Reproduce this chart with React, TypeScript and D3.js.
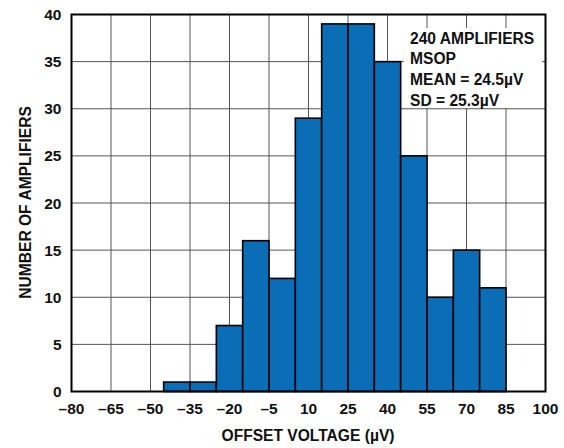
import React from "react";
import * as d3 from "d3";

const binStarts = [-55, -45, -35, -25, -15, -5, 5, 15, 25, 35, 45, 55, 65, 75, 85];
const counts = [0, 1, 1, 7, 16, 12, 29, 39, 39, 35, 25, 10, 15, 11, 0];
const binWidth = 10;
const xTicks = [-80, -65, -50, -35, -20, -5, 10, 25, 40, 55, 70, 85, 100];
const yTicks = [0, 5, 10, 15, 20, 25, 30, 35, 40];
const infoLines = ["240 AMPLIFIERS", "MSOP", "MEAN = 24.5µV", "SD = 25.3µV"];

export default function App() {
  const W = 564, H = 448;
  const left = 71.5, right = 545.5, top = 14.5, bottom = 391.5;
  const x = d3.scaleLinear().domain([-80, 100]).range([left, right]);
  const y = d3.scaleLinear().domain([0, 40]).range([bottom, top]);
  const font = "'Liberation Sans', Arial, sans-serif";
  return (
    <svg width={W} height={H} style={{ position: "absolute", left: 0, top: 0 }} fontFamily={font} fontWeight="bold">
      <rect width={W} height={H} fill="#fff" />
      {xTicks.map((t) => (
        <line key={"gx" + t} x1={x(t)} x2={x(t)} y1={top} y2={bottom} stroke="#555" strokeWidth={1} />
      ))}
      {yTicks.map((t) => (
        <line key={"gy" + t} x1={left} x2={right} y1={y(t)} y2={y(t)} stroke="#555" strokeWidth={1} />
      ))}
      <rect x={404} y={28} width={138} height={80} fill="#fff" />
      {infoLines.map((s, i) => (
        <text key={s} x={410} y={43.5 + i * 20.7} fontSize={15.6} fill="#111">{s}</text>
      ))}
      {binStarts.map((b, i) => (
        <rect key={"b" + b} x={x(b)} width={x(b + binWidth) - x(b)} y={y(counts[i])} height={y(0) - y(counts[i])}
          fill="#0a6db6" stroke="#000" strokeWidth={1.6} />
      ))}
      <rect x={left} y={top} width={right - left} height={bottom - top} fill="none" stroke="#000" strokeWidth={2} />
      {yTicks.map((t) => (
        <text key={"ty" + t} x={61.5} y={y(t)} dy="0.36em" textAnchor="end" fontSize={15.5} fill="#111">{t}</text>
      ))}
      {xTicks.map((t) => (
        <text key={"tx" + t} x={x(t)} y={413.5} textAnchor="middle" fontSize={15.5} fill="#111">{t < 0 ? "\u2013" + Math.abs(t) : t}</text>
      ))}
      <text x={308} y={441} textAnchor="middle" fontSize={15.6} fill="#111">OFFSET VOLTAGE (µV)</text>
      <text transform={`translate(25,202.5) rotate(-90)`} textAnchor="middle" dy="0.36em" fontSize={15.6} fill="#111">NUMBER OF AMPLIFIERS</text>
    </svg>
  );
}
